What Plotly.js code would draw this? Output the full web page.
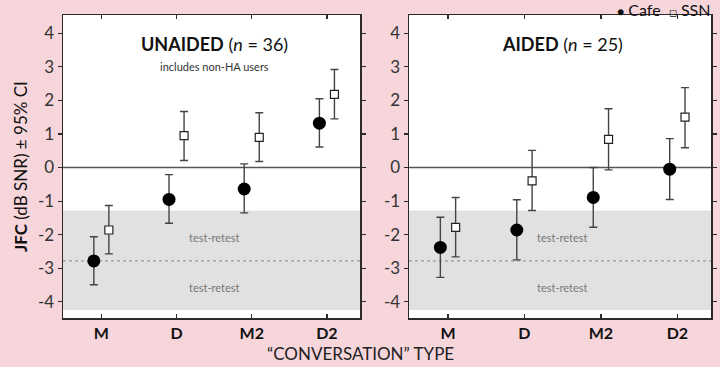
<!DOCTYPE html>
<html><head><meta charset="utf-8">
<script src="https://cdn.plot.ly/plotly-3.0.1.min.js"></script>
<style>html,body{margin:0;padding:0;background:#f7d6db;}</style>
</head><body>
<div id="chart" style="width:720px;height:367px;"></div>
<script>
const categories = ["M", "D", "M2", "D2"];
const catPos = [1, 2, 3, 4];
// UNAIDED (n = 36)
const unaidedCafe = [-2.78, -0.95, -0.64, 1.32];
const unaidedCafeHi = [-2.06, -0.21, 0.11, 2.05];
const unaidedCafeLo = [-3.49, -1.66, -1.35, 0.61];
const unaidedSSN = [-1.86, 0.95, 0.90, 2.18];
const unaidedSSNHi = [-1.13, 1.67, 1.63, 2.92];
const unaidedSSNLo = [-2.57, 0.21, 0.18, 1.45];
// AIDED (n = 25)
const aidedCafe = [-2.38, -1.86, -0.89, -0.05];
const aidedCafeHi = [-1.48, -0.96, 0.00, 0.86];
const aidedCafeLo = [-3.27, -2.75, -1.78, -0.95];
const aidedSSN = [-1.78, -0.40, 0.84, 1.50];
const aidedSSNHi = [-0.89, 0.51, 1.75, 2.38];
const aidedSSNLo = [-2.66, -1.28, -0.07, 0.59];
// test-retest band and line
const retestTop = -1.28, retestBottom = -4.24, retestLine = -2.78;
const yTicks = [-4, -3, -2, -1, 0, 1, 2, 3, 4];

const offset = 0.1;
const FONT = "Lato, 'Open Sans', sans-serif";
const ink = "#2a2a2a";

function mk(vals, hi, lo, dx, name, xa, ya, filled) {
  return {
    type: "scatter", mode: "markers", name: name, showlegend: false,
    x: catPos.map(p => p + dx), y: vals, xaxis: xa, yaxis: ya,
    error_y: { type: "data", symmetric: false,
      array: vals.map((v, i) => hi[i] - v),
      arrayminus: vals.map((v, i) => v - lo[i]),
      color: "#444", thickness: 1.4, width: 4 },
    marker: filled
      ? { symbol: "circle", size: 13, color: "#000", line: { width: 0 } }
      : { symbol: "square", size: 8, color: "#fff", line: { width: 1.2, color: "#222" } },
    cliponaxis: false
  };
}

const traces = [
  mk(unaidedCafe, unaidedCafeHi, unaidedCafeLo, -offset, "Cafe", "x", "y", true),
  mk(unaidedSSN, unaidedSSNHi, unaidedSSNLo, offset, "SSN", "x", "y", false),
  mk(aidedCafe, aidedCafeHi, aidedCafeLo, -offset, "Cafe", "x2", "y2", true),
  mk(aidedSSN, aidedSSNHi, aidedSSNLo, offset, "SSN", "x2", "y2", false)
];

function xax(domain, anchor) {
  return { domain: domain, anchor: anchor, range: [0.49, 4.44],
    tickvals: catPos, ticktext: categories.map(c => "<b>" + c + "</b>"),
    ticks: "inside", ticklen: 4, tickwidth: 1.2, tickcolor: ink,
    showline: true, linecolor: ink, linewidth: 1.5, mirror: "ticks",
    showgrid: false, zeroline: false, automargin: false,
    tickfont: { family: FONT, size: 16, color: "#111" } };
}
function yax(domain, anchor) {
  return { domain: domain, anchor: anchor, range: [-4.48, 4.54],
    tickvals: yTicks, ticktext: yTicks.map(String),
    ticks: "outside", ticklen: 4, tickwidth: 1.2, tickcolor: ink,
    showline: true, linecolor: ink, linewidth: 1.5, mirror: "ticks",
    showgrid: false, zeroline: false, automargin: false,
    tickfont: { family: FONT, size: 17, color: "#333" } };
}

const yDom = [0.1335, 0.959];
const shapes = [];
[["x", "y"], ["x2", "y2"]].forEach(([xa, ya]) => {
  shapes.push({ type: "rect", xref: xa + " domain", yref: ya, x0: 0, x1: 1,
    y0: retestBottom, y1: retestTop, fillcolor: "#e1e1e1", line: { width: 0 }, layer: "below" });
  shapes.push({ type: "line", xref: xa + " domain", yref: ya, x0: 0, x1: 1,
    y0: retestLine, y1: retestLine, line: { color: "#888", width: 1, dash: "dot" }, layer: "below" });
  shapes.push({ type: "line", xref: xa + " domain", yref: ya, x0: 0, x1: 1,
    y0: 0, y1: 0, line: { color: "#555", width: 1.6 }, layer: "below" });
});

const ann = [];
function txt(xref, yref, x, y, text, size, color, extra) {
  ann.push(Object.assign({ xref, yref, x, y, text, showarrow: false,
    font: { family: FONT, size, color } }, extra || {}));
}
txt("x", "y", 2.5, 3.68, "<b>UNAIDED</b> (<i>n</i> = 36)", 18, "#111");
txt("x", "y", 2.5, 3.0, "includes non-HA users", 11, "#333");
txt("x2", "y2", 2.5, 3.68, "<b>AIDED</b> (<i>n</i> = 25)", 18, "#111");
["x", "x2"].forEach((xa, i) => {
  const ya = i ? "y2" : "y";
  txt(xa, ya, 2.5, -2.08, "test-retest", 11, "#777");
  txt(xa, ya, 2.5, -3.57, "test-retest", 11, "#777");
});
txt("paper", "paper", 0.5, 0.0, "“CONVERSATION” TYPE", 17, "#222",
  { yanchor: "bottom", yshift: 1 });
txt("paper", "paper", 0.0, 0.546, "<b>JFC</b> (dB SNR) ± 95% CI", 17, "#111",
  { textangle: -90, xanchor: "left", xshift: 8 });
// legend
txt("paper", "paper", 0.988, 1.0, "<span style='font-size:12px'>●</span> Cafe  <span style='font-size:10px'>◻</span> SSN", 16, "#111",
  { xanchor: "right", yanchor: "top", yshift: 1, borderpad: 0 });

const layout = {
  width: 720, height: 367,
  margin: { l: 0, r: 0, t: 0, b: 0 },
  paper_bgcolor: "#f7d6db", plot_bgcolor: "#ffffff",
  font: { family: FONT, color: ink },
  xaxis: xax([63 / 720, 360 / 720], "y"),
  yaxis: yax(yDom, "x"),
  xaxis2: xax([409 / 720, 711 / 720], "y2"),
  yaxis2: yax(yDom, "x2"),
  shapes: shapes,
  annotations: ann,
  showlegend: false
};

Plotly.newPlot("chart", traces, layout, { staticPlot: true, displayModeBar: false });
</script>
</body></html>
